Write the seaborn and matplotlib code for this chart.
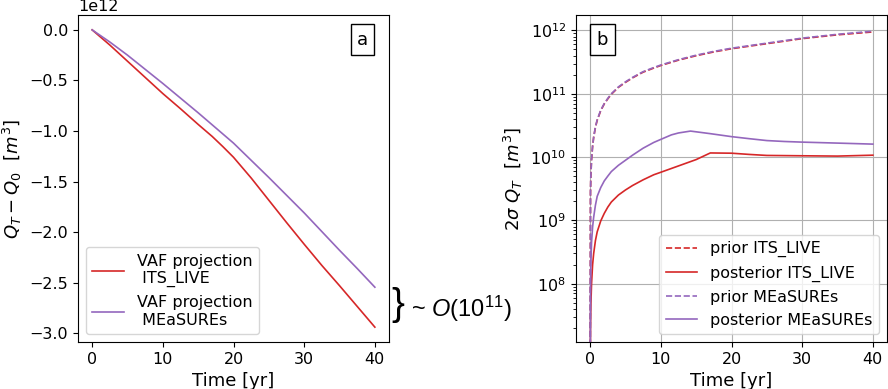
import numpy as np
import pandas as pd
import seaborn as sns
import matplotlib.pyplot as plt

# -------- data --------
# panel a: VAF change (m^3)
t_vaf_its = [0, 2.5, 5, 7.5, 10, 12.5, 15, 17, 18.5, 20, 22.5, 25, 27.5, 30, 32.5, 35, 37.5, 40]
vaf_its = [0, -0.15e12, -0.31e12, -0.47e12, -0.63e12, -0.78e12, -0.935e12, -1.055e12, -1.155e12,
           -1.26e12, -1.465e12, -1.685e12, -1.905e12, -2.12e12, -2.33e12, -2.53e12, -2.735e12, -2.94e12]
t_vaf_meas = [0, 2.5, 5, 7.5, 10, 12.5, 15, 17.5, 20, 22.5, 25, 27.5, 30, 32.5, 35, 37.5, 40]
vaf_meas = [0, -0.12e12, -0.25e12, -0.39e12, -0.53e12, -0.675e12, -0.82e12, -0.97e12, -1.12e12,
            -1.29e12, -1.46e12, -1.635e12, -1.81e12, -1.995e12, -2.18e12, -2.36e12, -2.545e12]

# panel b: 2 sigma Q_T (m^3)
t_prior = [0, 0.05, 0.1, 0.2, 0.35, 0.5, 0.75, 1, 1.5, 2, 2.5, 3, 4, 5, 6, 7.5, 9, 10,
           12.5, 15, 17.5, 20, 25, 30, 35, 40]
prior_its = [1e6, 2.75e9, 5.0e9, 9.1e9, 1.48e10, 2.04e10, 2.95e10, 3.8e10, 5.4e10, 6.9e10,
             8.3e10, 9.8e10, 1.26e11, 1.51e11, 1.78e11, 2.19e11, 2.54e11, 2.79e11,
             3.39e11, 3.98e11, 4.57e11, 5.13e11, 6.17e11, 7.41e11, 8.51e11, 9.45e11]
prior_meas = [1e6, 2.8e9, 5.1e9, 9.3e9, 1.51e10, 2.08e10, 3.0e10, 3.88e10, 5.5e10, 7.0e10,
              8.45e10, 1.0e11, 1.28e11, 1.54e11, 1.81e11, 2.23e11, 2.59e11, 2.84e11,
              3.45e11, 4.06e11, 4.66e11, 5.23e11, 6.29e11, 7.55e11, 8.68e11, 9.7e11]

t_post_its = [0, 0.05, 0.1, 0.2, 0.35, 0.5, 0.75, 1, 1.5, 2, 2.5, 3, 4, 5, 6, 7.5, 9, 10,
              12.5, 15, 17, 20, 22.5, 25, 30, 35, 40]
post_its = [1e6, 2.0e7, 4.5e7, 1.0e8, 2.0e8, 3.0e8, 4.8e8, 6.6e8, 9.8e8, 1.29e9, 1.62e9,
            1.95e9, 2.51e9, 3.02e9, 3.55e9, 4.37e9, 5.25e9, 5.75e9, 7.24e9, 9.12e9,
            1.16e10, 1.15e10, 1.1e10, 1.06e10, 1.047e10, 1.035e10, 1.07e10]
t_post_meas = [0, 0.05, 0.1, 0.2, 0.35, 0.5, 0.75, 1, 1.5, 2, 2.5, 3, 4, 5, 6, 7.5, 9, 10,
               11.5, 12.5, 14.2, 17, 20, 22.5, 25, 27.5, 30, 35, 40]
post_meas = [1e6, 8.0e7, 2.0e8, 4.5e8, 7.9e8, 1.12e9, 1.74e9, 2.4e9, 3.3e9, 4.2e9, 5.0e9,
             5.9e9, 7.4e9, 8.9e9, 1.07e10, 1.38e10, 1.7e10, 1.9e10, 2.24e10, 2.4e10,
             2.57e10, 2.34e10, 2.1e10, 1.95e10, 1.82e10, 1.76e10, 1.72e10, 1.66e10, 1.6e10]

red = "tab:red"
purple = "tab:purple"

# sans math font only for the brace note (math_fontfamily="custom")
plt.rcParams["mathtext.rm"] = "Liberation Sans"
plt.rcParams["mathtext.it"] = "Liberation Sans:italic"

fig = plt.figure(figsize=(8.88, 3.89), dpi=100)
W, H = 888, 389
ax1 = fig.add_axes([78 / W, 47 / H, 311 / W, 327 / H])
ax2 = fig.add_axes([576 / W, 47 / H, 311 / W, 327 / H])

# -------- panel a --------
sns.lineplot(x=t_vaf_its, y=vaf_its, ax=ax1, color=red, lw=1.2,
             label="VAF projection\n ITS_LIVE")
sns.lineplot(x=t_vaf_meas, y=vaf_meas, ax=ax1, color=purple, lw=1.2,
             label="VAF projection\n MEaSUREs")
ax1.set_xlabel("Time [yr]", fontsize=13)
ax1.set_ylabel(r"$Q_T - Q_0\ \ [m^3]$", fontsize=13)
ax1.tick_params(labelsize=11.5)
ax1.yaxis.get_offset_text().set_fontsize(11.5)
ax1.set_xticks([0, 10, 20, 30, 40])
ax1.legend(loc="lower left", fontsize=11.5)
ax1.text(0.915, 0.925, "a", transform=ax1.transAxes, fontsize=13, ha="center", va="center",
         bbox=dict(boxstyle="square,pad=0.35", facecolor="white", edgecolor="black"))

# -------- panel b --------
sns.lineplot(x=t_prior, y=prior_its, ax=ax2, color=red, lw=1.2, linestyle="--",
             label="prior ITS_LIVE")
sns.lineplot(x=t_post_its, y=post_its, ax=ax2, color=red, lw=1.2,
             label="posterior ITS_LIVE")
sns.lineplot(x=t_prior, y=prior_meas, ax=ax2, color=purple, lw=1.2, linestyle="--",
             label="prior MEaSUREs")
sns.lineplot(x=t_post_meas, y=post_meas, ax=ax2, color=purple, lw=1.2,
             label="posterior MEaSUREs")
ax2.set_yscale("log")
ax2.set_ylim(1.2e7, 1.75e12)
ax2.set_xlim(-2, 42)
ax2.set_xticks([0, 10, 20, 30, 40])
ax2.grid(True)
ax2.set_xlabel("Time [yr]", fontsize=13)
ax2.set_ylabel(r"$2\sigma\ Q_T\ \ [m^3]$", fontsize=13)
ax2.tick_params(labelsize=11.5)
ax2.legend(loc="lower right", fontsize=11.5)
ax2.text(0.085, 0.925, "b", transform=ax2.transAxes, fontsize=13, ha="center", va="center",
         bbox=dict(boxstyle="square,pad=0.35", facecolor="white", edgecolor="black"))

# -------- brace annotation --------
fig.text(398 / W, 1 - 305 / H, "}", fontsize=28, family="Liberation Sans",
         ha="center", va="center")
fig.text(411 / W, 1 - 309 / H, r"~ $O(10^{11})$", fontsize=17, family="Liberation Sans",
         math_fontfamily="custom", ha="left", va="center")

fig.savefig("out.png", dpi=100)
